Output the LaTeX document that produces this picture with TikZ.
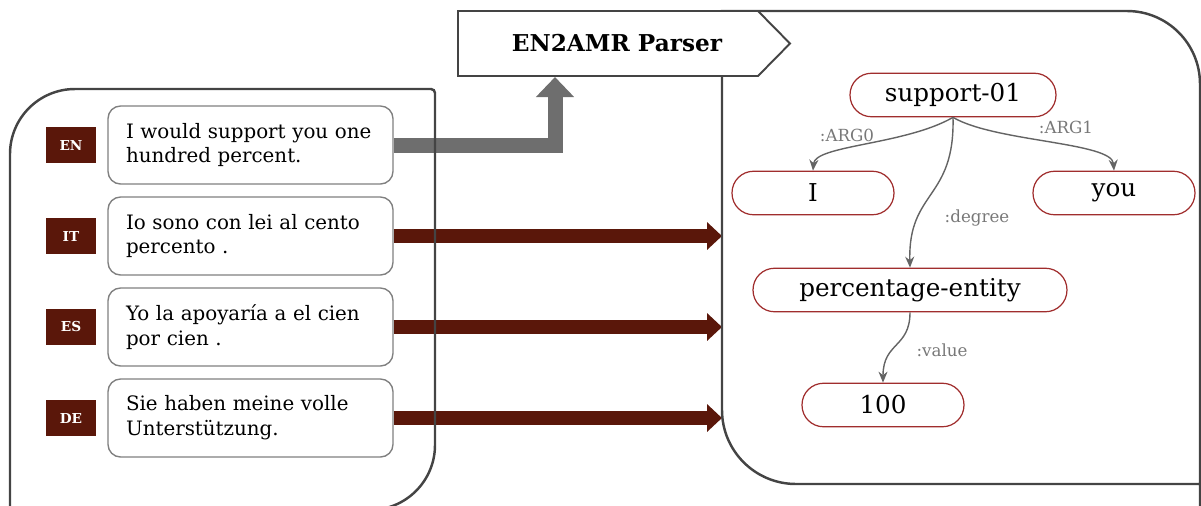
\documentclass[tikz,border=0pt]{standalone}
\usepackage{fontspec}
\setmainfont{DejaVu Serif}
\usetikzlibrary{arrows.meta}

\definecolor{darkred}{RGB}{90,23,10}
\definecolor{amrred}{RGB}{160,45,45}
\definecolor{framegray}{RGB}{68,68,68}
\definecolor{edgegray}{RGB}{100,100,100}
\definecolor{labelgray}{RGB}{120,120,120}
\definecolor{pipegray}{RGB}{110,110,110}

\tikzset{
  langtag/.style={fill=darkred, text=white, font=\bfseries\fontsize{7.8}{9}\selectfont,
    minimum width=1cm, minimum height=0.72cm, inner sep=0pt},
  sentbox/.style={draw=gray, line width=0.8pt, rounded corners=0.25cm, minimum height=1.56cm,
    text width=4.98cm, inner xsep=0.36cm, align=left, font=\fontsize{11.3}{14.2}\selectfont},
  amrnode/.style={draw=amrred, line width=0.7pt, rounded corners=0.43cm, minimum height=0.87cm,
    inner sep=0pt, font=\fontsize{14}{16}\selectfont},
  relarrow/.style={edgegray, line width=0.8pt, -{Stealth[length=0.22cm,width=0.18cm]}},
  rellabel/.style={text=labelgray, font=\fontsize{9.5}{11}\selectfont},
  transfer/.style={darkred, line width=0.28cm, -{Triangle[width=0.54cm,length=0.3cm]}},
  frame/.style={framegray, line width=1.4pt},
}

\begin{document}
\begin{tikzpicture}[x=0.02cm, y=-0.02cm]
\useasboundingbox (0,0) rectangle (1201,505);
\clip (0,0) rectangle (1201,505);

% sentences
\node[langtag] (entag) at (71,145) {EN};
\node[langtag] (ittag) at (71,236) {IT};
\node[langtag] (estag) at (71,327) {ES};
\node[langtag] (detag) at (71,418) {DE};
\node[sentbox] (en) at (250.5,145) {I would support you one hundred percent.};
\node[sentbox] (it) at (250.5,236) {Io sono con lei al cento percento .};
\node[sentbox] (es) at (250.5,327) {Yo la apoyaría a el cien por cien .};
\node[sentbox] (de) at (250.5,418) {Sie haben meine volle Unterstützung.};

% arrows
\coordinate (rleft) at (722,0);
\coordinate (pin) at (555,77);
\draw[pipegray, line width=0.3cm, -{Triangle[width=0.74cm,length=0.4cm]}] (en.east) -| (pin);
\draw[transfer] (it.east) -- (it.east -| rleft);
\draw[transfer] (es.east) -- (es.east -| rleft);
\draw[transfer] (de.east) -- (de.east -| rleft);

% frames
\draw[frame] (10,530) -- (10,154) arc[start angle=180, end angle=270, radius=65]
  -- (431,89) arc[start angle=270, end angle=360, radius=4]
  -- (435,445) arc[start angle=0, end angle=90, radius=65] -- (10,510);
\draw[frame] (1215,484) -- (796,484) arc[start angle=90, end angle=180, radius=74]
  -- (722,11) -- (1127,11) arc[start angle=270, end angle=360, radius=73] -- (1200,520);

% parser
\draw[framegray, line width=1.1pt, fill=white] (458,11) -- (758,11) -- (790,43.5) -- (758,76) -- (458,76) -- cycle;
\node[font=\bfseries\fontsize{13.2}{15}\selectfont] (parser) at (617,43.5) {EN2AMR Parser};

% AMR graph
\node[amrnode, minimum width=4.12cm] (sup) at (953,95) {support-01};
\node[amrnode, minimum width=3.24cm] (i) at (813,193) {I};
\node[amrnode, minimum width=3.24cm] (you) at (1114,193) {you};
\node[amrnode, minimum width=6.28cm] (pct) at (910,290) {percentage-entity};
\node[amrnode, minimum width=3.24cm] (val) at (883,405) {100};

\draw[relarrow] (sup.south) .. controls (905,145) and (815,145) .. (i.north);
\draw[relarrow] (sup.south) .. controls (995,142) and (1112,142) .. (you.north);
\draw[relarrow] (sup.south) .. controls (955,200) and (908,190) .. (pct.north);
\draw[relarrow] (pct.south) .. controls (910,348) and (883,342) .. (val.north);

\node[rellabel] (arg0) at (847,135) {:ARG0};
\node[rellabel] (arg1) at (1066,127) {:ARG1};
\node[rellabel] (degree) at (977,218) {:degree};
\node[rellabel] (value) at (942,350) {:value};
\end{tikzpicture}
\end{document}
